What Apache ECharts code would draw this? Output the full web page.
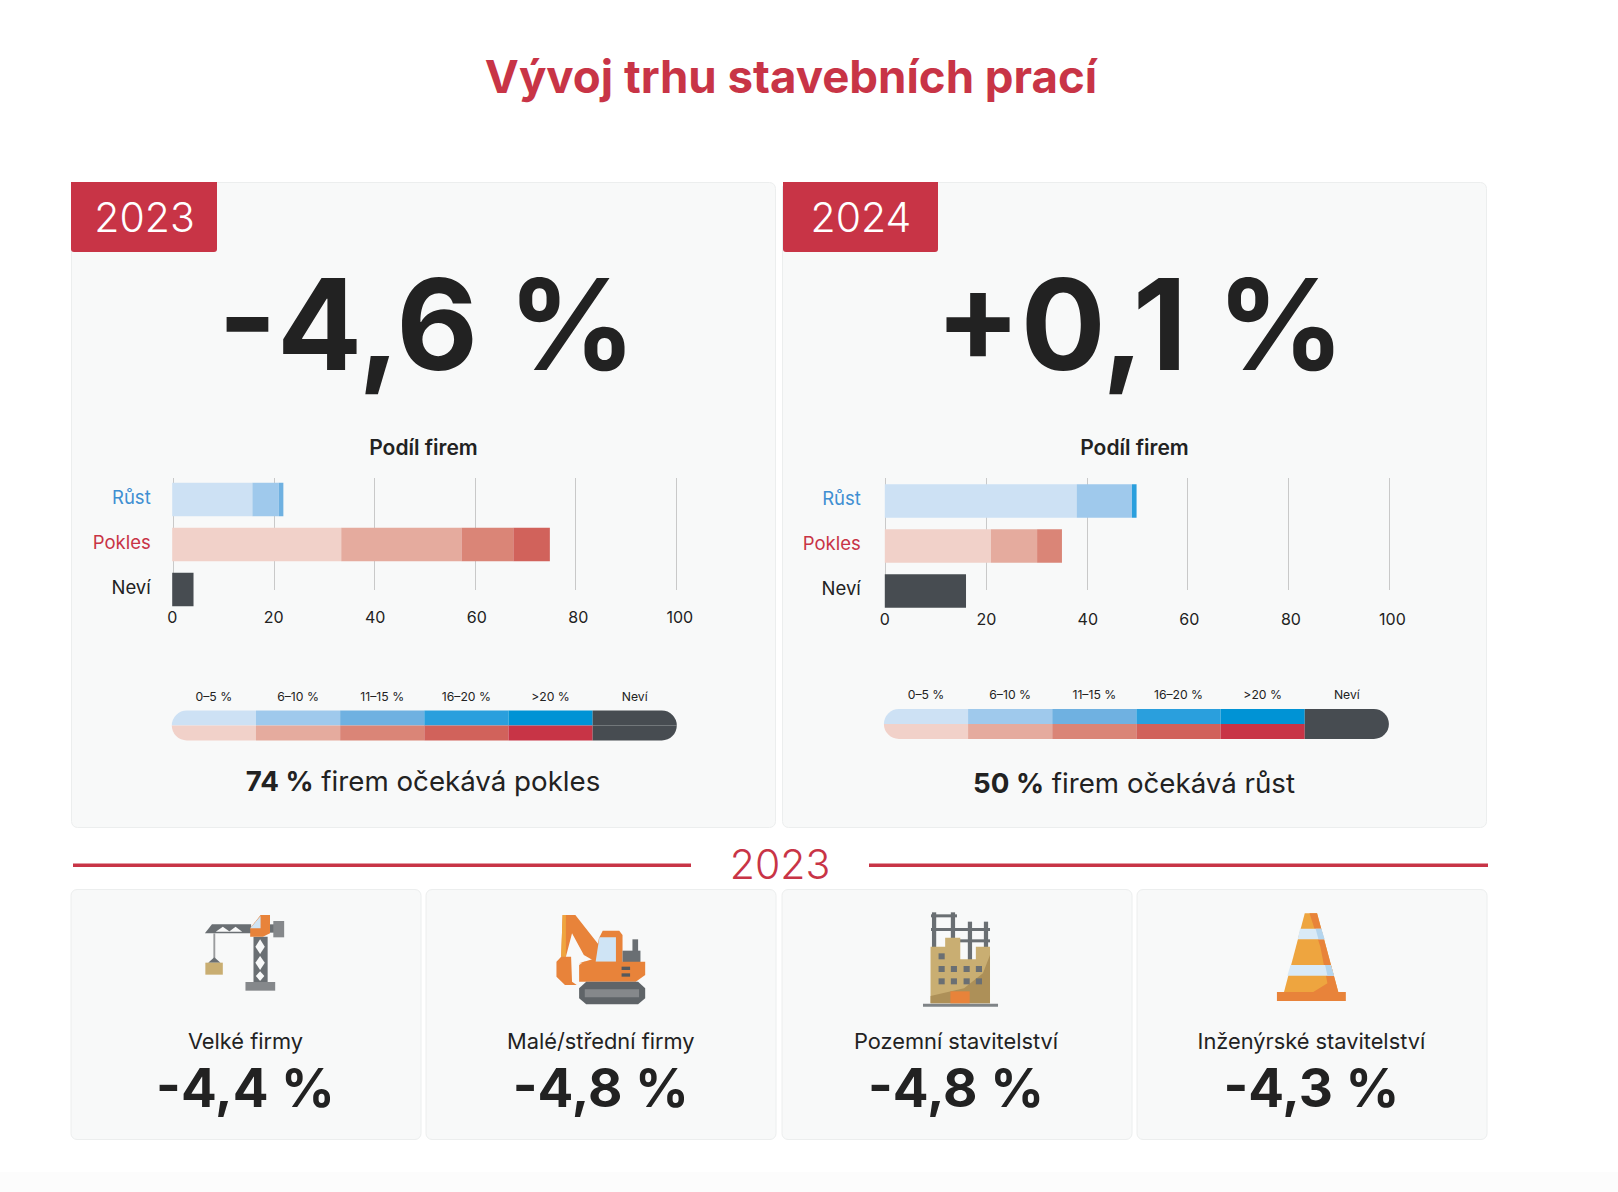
<!DOCTYPE html>
<html>
<head>
<meta charset="utf-8">
<title>Vývoj trhu stavebních prací</title>
<script src="https://cdn.jsdelivr.net/npm/echarts@6/dist/echarts.min.js"></script>
<style>
  html, body { margin: 0; padding: 0; background: #fff; }
  #chart { width: 1618px; height: 1192px; }
</style>
</head>
<body>
<div id="chart"></div>
<script>
const titleText = 'Vývoj trhu stavebních prací';
const categories = ['Růst', 'Pokles', 'Neví'];
const categoryColors = ['#3f8fd2', '#c83446', '#222222'];
const bandLabels = ['0–5 %', '6–10 %', '11–15 %', '16–20 %', '>20 %', 'Neví'];
const xTicks = [0, 20, 40, 60, 80, 100];

// podily firem po pasmech
const growth2023 = [15.8, 5.2, 0.9, 0, 0];
const decline2023 = [33.3, 23.7, 10.2, 7.2, 0];
const unknown2023 = 4.2;
const growth2024 = [37.8, 10.9, 0, 0.9, 0];
const decline2024 = [20.9, 9.1, 4.9, 0, 0];
const unknown2024 = 16;

const blueColors = ['#cde1f4', '#9fc9ec', '#6fb1e1', '#2a9fdd', '#0093d5'];
const redColors = ['#f1d1c9', '#e5ab9e', '#da8577', '#d1625b', '#c83446'];
const unknownColor = '#474c51';
const brandRed = '#c83446';
const inkColor = '#222222';
const fontName = 'Inter, "Noto Sans", sans-serif';

const subLabels = ['Velké firmy', 'Malé/střední firmy', 'Pozemní stavitelství', 'Inženýrské stavitelství'];
const subValues = ['-4,4 %', '-4,8 %', '-4,8 %', '-4,3 %'];

let chart = echarts.init(document.getElementById('chart'), null, { renderer: 'svg' });
let grid = [];
let xAxis = [];
let yAxis = [];
let series = [];

// jeden panel: mrizka s cistymi carami, pruhy a legenda
function addPanel(p) {
    let id = grid.length;
    grid.push({ left: p.lineLeft, width: p.lineWidth, top: 478, height: 112 });
    xAxis.push({ gridIndex: id, type: 'value', min: xTicks[0], max: xTicks[5], interval: 20,
        axisLine: { show: false }, axisTick: { show: false }, axisLabel: { show: false },
        splitLine: { lineStyle: { color: '#c9c9c9', width: 1 } } });
    yAxis.push({ gridIndex: id, type: 'category', data: categories, show: false });
    series.push({ type: 'bar', xAxisIndex: id, yAxisIndex: id, data: [], silent: true });

    grid.push({ left: p.barLeft, width: 507.6, top: p.barTop, height: 135 });
    xAxis.push({ gridIndex: id + 1, type: 'value', min: xTicks[0], max: xTicks[5], interval: 20,
        axisLine: { show: false }, axisTick: { show: false }, splitLine: { show: false },
        axisLabel: { margin: -3, fontSize: 16, color: inkColor, fontFamily: fontName } });
    yAxis.push({ gridIndex: id + 1, type: 'category', data: categories, inverse: true,
        axisLine: { show: false }, axisTick: { show: false }, splitLine: { show: false },
        axisLabel: { margin: p.labelMargin, fontSize: 18.5, fontFamily: fontName,
            verticalAlign: 'bottom', lineHeight: 6,
            color: (v, i) => categoryColors[categories.indexOf(v)] } });
    p.growth.forEach((g, i) => {
        series.push({ name: bandLabels[i], type: 'bar', stack: 'p' + id, xAxisIndex: id + 1, yAxisIndex: id + 1,
            barWidth: 33.5, silent: true,
            data: [{ value: g, itemStyle: { color: blueColors[i] } },
                   { value: p.decline[i], itemStyle: { color: redColors[i] } }, 0] });
    });
    series.push({ name: bandLabels[5], type: 'bar', stack: 'p' + id, xAxisIndex: id + 1, yAxisIndex: id + 1,
        barWidth: 33.5, silent: true, data: [0, 0, { value: p.unknown, itemStyle: { color: unknownColor } }] });

    // legenda
    grid.push({ left: p.keyLeft, width: 505, top: p.keyTop, height: 30 });
    xAxis.push({ gridIndex: id + 2, type: 'value', min: 0, max: bandLabels.length, show: false });
    yAxis.push({ gridIndex: id + 2, type: 'category', data: ['up', 'down'], inverse: true, show: false });
    bandLabels.forEach((name, i) => {
        let last = i === bandLabels.length - 1;
        let r = 15;
        let upRadius = i === 0 ? [r, 0, 0, 0] : last ? [0, r, 0, 0] : 0;
        let downRadius = i === 0 ? [0, 0, 0, r] : last ? [0, 0, r, 0] : 0;
        series.push({ name: name, type: 'bar', stack: 'k' + id, xAxisIndex: id + 2, yAxisIndex: id + 2,
            barWidth: 15, silent: true,
            data: [
                { value: 1, itemStyle: { color: last ? unknownColor : blueColors[i], borderRadius: upRadius },
                  label: { show: true, position: 'top', distance: 8.5, formatter: name, fontSize: 12.2,
                           color: inkColor, fontFamily: fontName } },
                { value: 1, itemStyle: { color: last ? unknownColor : redColors[i], borderRadius: downRadius } }
            ] });
    });
}

addPanel({ lineLeft: 173.3, lineWidth: 503, barLeft: 172.2, barTop: 477, keyLeft: 171.8, keyTop: 710.5,
    labelMargin: 21.5, growth: growth2023, decline: decline2023, unknown: unknown2023 });
addPanel({ lineLeft: 885.2, lineWidth: 504, barLeft: 884.8, barTop: 478.5, keyLeft: 883.9, keyTop: 709,
    labelMargin: 24, growth: growth2024, decline: decline2024, unknown: unknown2024 });

let g = [];
function rect(x, y, w, h, fill, r, stroke) {
    g.push({ type: 'rect', z: -10, silent: true, shape: { x: x, y: y, width: w, height: h, r: r || 0 },
        style: { fill: fill, stroke: stroke || null, lineWidth: stroke ? 1 : 0 } });
}
function text(x, y, str, size, weight, color, family) {
    g.push({ type: 'text', z: 10, silent: true, x: x, y: y,
        style: { text: str, fontSize: size, fontWeight: weight, fill: color, fontFamily: family || fontName,
                 align: 'center', verticalAlign: 'middle' } });
}
function richText(x, y, bold, rest, size) {
    g.push({ type: 'text', z: 10, silent: true, x: x, y: y,
        style: { text: '{b|' + bold + '}{n| ' + rest + '}', align: 'center', verticalAlign: 'middle',
            rich: { b: { fontSize: size, fontWeight: 700, fill: inkColor, fontFamily: fontName },
                    n: { fontSize: size, fontWeight: 400, fill: inkColor, fontFamily: fontName } } } });
}

// pozadi a karty
rect(0, 1172, 1618, 20, '#fcfcfc');
const cardFill = '#f8f9f9';
const cardEdge = '#eceeee';
rect(71.5, 182.5, 704, 645, cardFill, 6, cardEdge);
rect(782.5, 182.5, 704, 645, cardFill, 6, cardEdge);
rect(71, 889.5, 350, 250, cardFill, 6, cardEdge);
rect(426, 889.5, 350, 250, cardFill, 6, cardEdge);
rect(782, 889.5, 350, 250, cardFill, 6, cardEdge);
rect(1137, 889.5, 350, 250, cardFill, 6, cardEdge);

rect(71, 182, 146, 70, brandRed, [0, 0, 3, 3]);
rect(783, 182, 155, 70, brandRed, [0, 0, 3, 3]);
text(144.5, 217, '2023', 41, 300, '#ffffff');
text(861, 217, '2024', 41, 300, '#ffffff');

text(427, 324, '-4,6 %', 126, 700, inkColor);
text(1140, 324, '+0,1 %', 126, 700, inkColor);
text(423.5, 447.5, 'Podíl firem', 21, 600, inkColor);
text(1134.5, 447.5, 'Podíl firem', 21, 600, inkColor);
richText(423, 781, '74 %', 'firem očekává pokles', 27.7);
richText(1134, 782.5, '50 %', 'firem očekává růst', 27.7);

// oddelovac
rect(73, 863.5, 618, 3.5, brandRed);
rect(869, 863.5, 619, 3.5, brandRed);
text(780, 864, '2023', 41, 300, brandRed);

const subCenters = [245.5, 600.8, 956, 1311.4];
subLabels.forEach((s, i) => {
    text(subCenters[i], 1040.5, s, 21.8, 400, inkColor);
    text(subCenters[i], 1088, subValues[i], 53, 700, inkColor);
});

// ikony, souradnice podle vyrezu
function iconShapes(ox, list) {
    const px = x => ox + x / 2.119;
    const py = y => 880 + y / 3;
    list.forEach(s => {
        if (s.length === 5) {
            g.push({ type: 'rect', z: 5, silent: true,
                shape: { x: px(s[0]), y: py(s[1]), width: s[2] / 2.119, height: s[3] / 3 }, style: { fill: s[4] } });
        } else {
            g.push({ type: 'polygon', z: 5, silent: true,
                shape: { points: s[0].map(p => [px(p[0]), py(p[1])]) }, style: { fill: s[1] } });
        }
    });
}
const orange = '#e8833a';
const grey = '#6a6f73';
// jerab
iconShapes(60, [
    [[[307, 160], [322, 133], [405, 133], [405, 160]], grey],
    [[[330, 155], [345, 140], [360, 155]], '#f8f9f9'],
    [[[358, 155], [372, 140], [386, 155]], '#f8f9f9'],
    [410, 170, 30, 140, grey],
    [[[424, 178], [434, 200], [424, 222], [414, 200]], '#f8f9f9'],
    [[[424, 228], [434, 248], [424, 270], [414, 248]], '#f8f9f9'],
    [[[424, 274], [433, 288], [424, 303], [415, 288]], '#f8f9f9'],
    [393, 306, 63, 26, '#85888b'],
    [445, 133, 10, 25, grey],
    [452, 123, 23, 49, '#85888b'],
    [[[403, 145], [425, 105], [445, 105], [445, 160], [430, 170], [403, 170]], orange],
    [[[403, 145], [425, 108], [425, 145]], '#cfe4f5'],
    [325, 160, 4, 78, '#9a9c9e'],
    [[[327, 232], [340, 248], [314, 248]], grey],
    [308, 248, 37, 36, '#c9ae72']
]);
// bagr
iconShapes(60, [
    [[[1065, 105], [1092, 105], [1142, 195], [1135, 245], [1110, 225], [1085, 160], [1072, 230], [1062, 230]], orange],
    [[[1065, 105], [1072, 105], [1072, 230], [1062, 230]], '#efa53f'],
    [[[1062, 230], [1083, 230], [1085, 305], [1095, 315], [1070, 315], [1052, 290], [1052, 245]], orange],
    [[[1142, 175], [1150, 152], [1185, 152], [1192, 165], [1192, 250], [1100, 250], [1135, 235]], orange],
    [[[1143, 172], [1178, 172], [1178, 245], [1135, 245]], '#cfe4f5'],
    [1192, 212, 38, 35, grey],
    [1213, 178, 12, 36, grey],
    [[[1100, 255], [1110, 245], [1240, 245], [1240, 285], [1220, 305], [1100, 305]], orange],
    [1190, 260, 18, 10, '#55595d'],
    [1190, 280, 18, 10, '#55595d'],
    [[[1115, 305], [1225, 305], [1240, 325], [1240, 355], [1225, 373], [1115, 373], [1100, 355], [1100, 325]], '#5f6468'],
    [1112, 328, 115, 24, '#85888b']
]);
// budova
iconShapes(780, [
    [322, 97, 9, 105, grey],
    [362, 97, 9, 80, grey],
    [398, 125, 9, 115, grey],
    [432, 125, 9, 80, grey],
    [320, 103, 55, 9, grey],
    [320, 144, 125, 9, grey],
    [380, 178, 65, 9, grey],
    [[[319, 200], [350, 200], [350, 173], [382, 173], [382, 238], [415, 238], [415, 200], [445, 200], [445, 370], [319, 370]], '#c9ae72'],
    [[[445, 225], [430, 280], [390, 325], [319, 348], [319, 370], [445, 370]], '#ad9058'],
    [336, 220, 13, 18, grey],
    [336, 258, 13, 18, grey], [362, 258, 13, 18, grey], [389, 258, 13, 18, grey], [415, 258, 13, 18, grey],
    [336, 295, 13, 18, grey], [362, 295, 13, 18, grey], [389, 295, 13, 18, grey], [415, 295, 13, 18, grey],
    [361, 334, 41, 36, orange],
    [303, 371, 159, 9, '#7f8487']
]);
// kuzel
iconShapes(780, [
    [[[1112, 100], [1138, 100], [1183, 336], [1068, 336]], '#eea53f'],
    [[[1122, 100], [1138, 100], [1183, 336], [1130, 336], [1160, 310], [1145, 200]], orange],
    [[[1102, 146], [1147, 146], [1154, 178], [1097, 178]], '#d9eaf7'],
    [[[1135, 146], [1147, 146], [1154, 178], [1141, 178]], '#b4d5ee'],
    [[[1082, 255], [1167, 255], [1174, 287], [1075, 287]], '#d9eaf7'],
    [[[1155, 255], [1167, 255], [1174, 287], [1160, 287]], '#b4d5ee'],
    [1053, 336, 146, 27, orange]
]);

chart.setOption({
    animation: false,
    backgroundColor: '#ffffff',
    title: { text: titleText, left: 786, textAlign: 'center', top: 48,
        textStyle: { fontSize: 45.6, fontWeight: 700, color: brandRed, fontFamily: fontName } },
    grid: grid,
    xAxis: xAxis,
    yAxis: yAxis,
    series: series,
    graphic: { elements: g }
});
</script>
</body>
</html>
